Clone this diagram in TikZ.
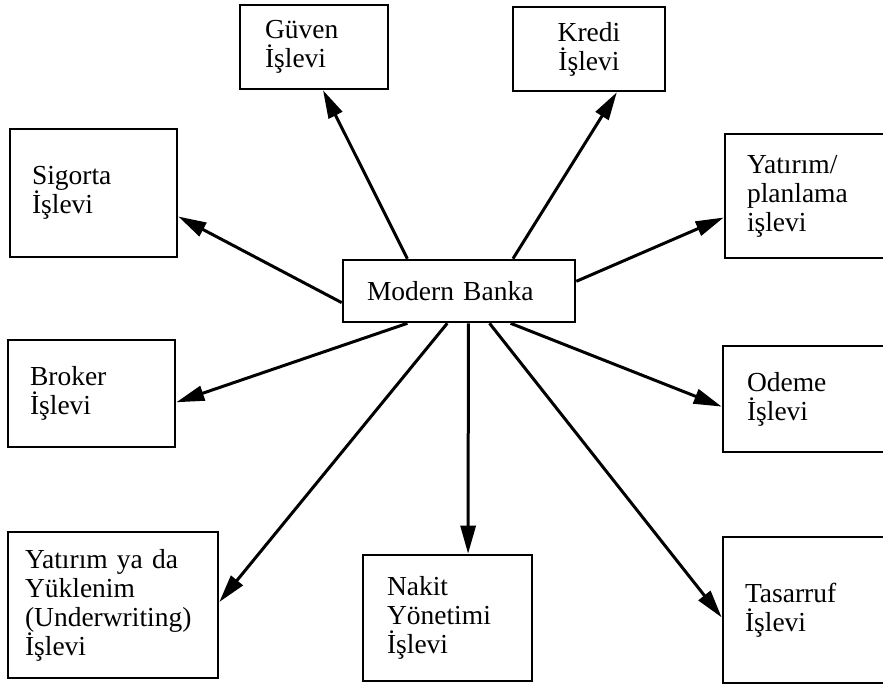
\documentclass[tikz,border=0pt]{standalone}
\usepackage{fontspec}
\setmainfont{Liberation Serif}
\usepackage{tikz}
\usetikzlibrary{arrows.meta,calc}

\begin{document}
\begin{tikzpicture}[
    x=1pt, y=-1pt,
    box/.style={draw, rectangle, line width=2.6pt, inner ysep=0pt, align=left,
                font=\fontsize{27.5}{29}\selectfont},
    link/.style={line width=3pt, -{Triangle[length=28pt,width=15pt]}},
  ]
  \useasboundingbox (0,0) rectangle (883,686);
  \clip (0,0) rectangle (883,686);

  % Center
  \node[box, inner xsep=24pt, text width=184pt, minimum height=62pt] (mb) at (459,291) {Modern Banka};

  % Top row
  \node[box, inner xsep=25pt, text width=98pt,  minimum height=84pt]  (guv) at (314,47)    {Güven\\İşlevi};
  \node[box, inner xsep=20pt, text width=112pt, minimum height=84pt, align=center] (kre) at (589,49) {Kredi\\İşlevi};

  % Left column
  \node[box, inner xsep=22pt, text width=123pt, minimum height=128pt] (sig) at (93.5,193)  {Sigorta\\İşlevi};
  \node[box, inner xsep=22pt, text width=123pt, minimum height=107pt] (bro) at (91.5,393.5) {Broker\\İşlevi};
  \node[box, inner xsep=17pt, text width=176pt, minimum height=146pt] (und) at (113,605)   {Yatırım ya da\\Yüklenim\\(Underwriting)\\İşlevi};

  % Right column (cut at the edge)
  \node[box, inner xsep=22pt, text width=131pt, minimum height=124pt] (yat) at (812.5,196) {Yatırım/\\planlama\\işlevi};
  \node[box, inner xsep=24pt, text width=129pt, minimum height=106pt] (ode) at (811.5,399) {Odeme\\İşlevi};
  \node[box, inner xsep=22pt, text width=133pt, minimum height=146pt] (tas) at (811.5,610) {Tasarruf\\İşlevi};

  % Bottom
  \node[box, inner xsep=24pt, text width=121pt, minimum height=126pt] (nak) at (447.5,618) {Nakit\\Yönetimi\\İşlevi};

  % Arrows out of the bank
  \draw[link] ($(mb.north west)!0.28!(mb.north east)$) -- ($(guv.south west)!0.56!(guv.south east)$);
  \draw[link] ($(mb.north west)!0.73!(mb.north east)$) -- ($(kre.south west)!0.68!(kre.south east)$);
  \draw[link] ($(mb.north west)!0.68!(mb.south west)$) -- ($(sig.north east)!0.68!(sig.south east)$);
  \draw[link] ($(mb.north east)!0.35!(mb.south east)$) -- ($(yat.north west)!0.67!(yat.south west)$);
  \draw[link] ($(mb.south west)!0.28!(mb.south east)$) -- ($(bro.north east)!0.58!(bro.south east)$);
  \draw[link] ($(mb.south west)!0.45!(mb.south east)$) -- ($(und.north east)!0.48!(und.south east)$);
  \draw[link] ($(mb.south west)!0.54!(mb.south east)$) -- ($(nak.north west)!0.62!(nak.north east)$);
  \draw[link] ($(mb.south west)!0.63!(mb.south east)$) -- ($(tas.north west)!0.55!(tas.south west)$);
  \draw[link] ($(mb.south west)!0.72!(mb.south east)$) -- ($(ode.north west)!0.57!(ode.south west)$);
\end{tikzpicture}
\end{document}
